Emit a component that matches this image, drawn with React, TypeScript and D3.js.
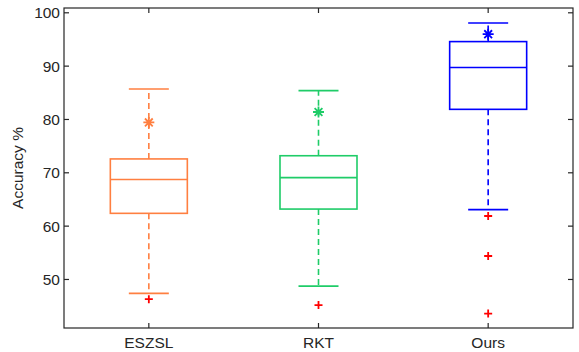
import * as d3 from "d3";

const categories = ["ESZSL", "RKT", "Ours"];
const colors = ["#FF7F40", "#1FCC68", "#0000FF"];
const q1 = [62.4, 63.2, 81.9];
const medians = [68.75, 69.1, 89.75];
const q3 = [72.6, 73.2, 94.6];
const lowerWhisker = [47.4, 48.75, 63.1];
const upperWhisker = [85.7, 85.4, 98.1];
const means = [79.45, 81.4, 96.0];
const outliers = [[46.3], [45.2], [61.9, 54.4, 43.6]];
const yTicks = [50, 60, 70, 80, 90, 100];

const W = 579;
const H = 352;
const margin = { top: 8, right: 6, bottom: 24, left: 64 };
const axisColor = "#262626";
const font = "'Liberation Sans', Arial, sans-serif";

export default function App() {
  const x = d3
    .scaleLinear()
    .domain([0.5, 3.5])
    .range([margin.left, W - margin.right]);
  const y = d3
    .scaleLinear()
    .domain([40.9, 100.9])
    .range([H - margin.bottom, margin.top]);

  const boxHalf = 38.5;
  const capHalf = 20;
  const tickLen = 5;
  const left = x.range()[0];
  const right = x.range()[1];
  const top = y.range()[1];
  const bottom = y.range()[0];

  // asterisk marker (8 arms)
  const star = (cx: number, cy: number, r: number) =>
    d3.range(4).map((i) => {
      const a = (i * Math.PI) / 4;
      const dx = r * Math.sin(a);
      const dy = r * Math.cos(a);
      return `M${cx - dx},${cy - dy}L${cx + dx},${cy + dy}`;
    }).join("");

  return (
    <svg width={W} height={H} style={{ position: "absolute", left: 0, top: 0, background: "#fff" }}>
      {/* boxes */}
      {categories.map((c, i) => {
        const cx = x(i + 1);
        const col = colors[i];
        return (
          <g key={c} fill="none" stroke={col} strokeWidth={1.6}>
            <line x1={cx} x2={cx} y1={y(q3[i])} y2={y(upperWhisker[i])} strokeDasharray="6,4" />
            <line x1={cx} x2={cx} y1={y(q1[i])} y2={y(lowerWhisker[i])} strokeDasharray="6,4" />
            <line x1={cx - capHalf} x2={cx + capHalf} y1={y(upperWhisker[i])} y2={y(upperWhisker[i])} />
            <line x1={cx - capHalf} x2={cx + capHalf} y1={y(lowerWhisker[i])} y2={y(lowerWhisker[i])} />
            <rect x={cx - boxHalf} y={y(q3[i])} width={boxHalf * 2} height={y(q1[i]) - y(q3[i])} fill="#fff" />
            <line x1={cx - boxHalf} x2={cx + boxHalf} y1={y(medians[i])} y2={y(medians[i])} />
            <path d={star(cx, y(means[i]), 5.5)} strokeWidth={1.8} />
            {outliers[i].map((v, j) => (
              <path
                key={j}
                d={`M${cx - 4},${y(v)}H${cx + 4}M${cx},${y(v) - 4}V${y(v) + 4}`}
                stroke="#FF0000"
                strokeWidth={1.8}
              />
            ))}
          </g>
        );
      })}

      {/* axes box */}
      <rect x={left} y={top} width={right - left} height={bottom - top} fill="none" stroke={axisColor} strokeWidth={1.2} />
      {yTicks.map((t) => (
        <g key={t}>
          <line x1={left} x2={left + tickLen} y1={y(t)} y2={y(t)} stroke={axisColor} strokeWidth={1.2} />
          <line x1={right} x2={right - tickLen} y1={y(t)} y2={y(t)} stroke={axisColor} strokeWidth={1.2} />
          <text x={left - 4} y={y(t)} dy="0.36em" textAnchor="end" fontFamily={font} fontSize={15.5} fill={axisColor}>
            {t}
          </text>
        </g>
      ))}
      {categories.map((c, i) => (
        <g key={c}>
          <line x1={x(i + 1)} x2={x(i + 1)} y1={bottom} y2={bottom - tickLen} stroke={axisColor} strokeWidth={1.2} />
          <line x1={x(i + 1)} x2={x(i + 1)} y1={top} y2={top + tickLen} stroke={axisColor} strokeWidth={1.2} />
          <text x={x(i + 1)} y={bottom + 20} textAnchor="middle" fontFamily={font} fontSize={15.5} fill={axisColor}>
            {c}
          </text>
        </g>
      ))}
      <text
        transform={`translate(23,${(top + bottom) / 2}) rotate(-90)`}
        textAnchor="middle"
        fontFamily={font}
        fontSize={15.5}
        fill={axisColor}
      >
        Accuracy %
      </text>
    </svg>
  );
}
